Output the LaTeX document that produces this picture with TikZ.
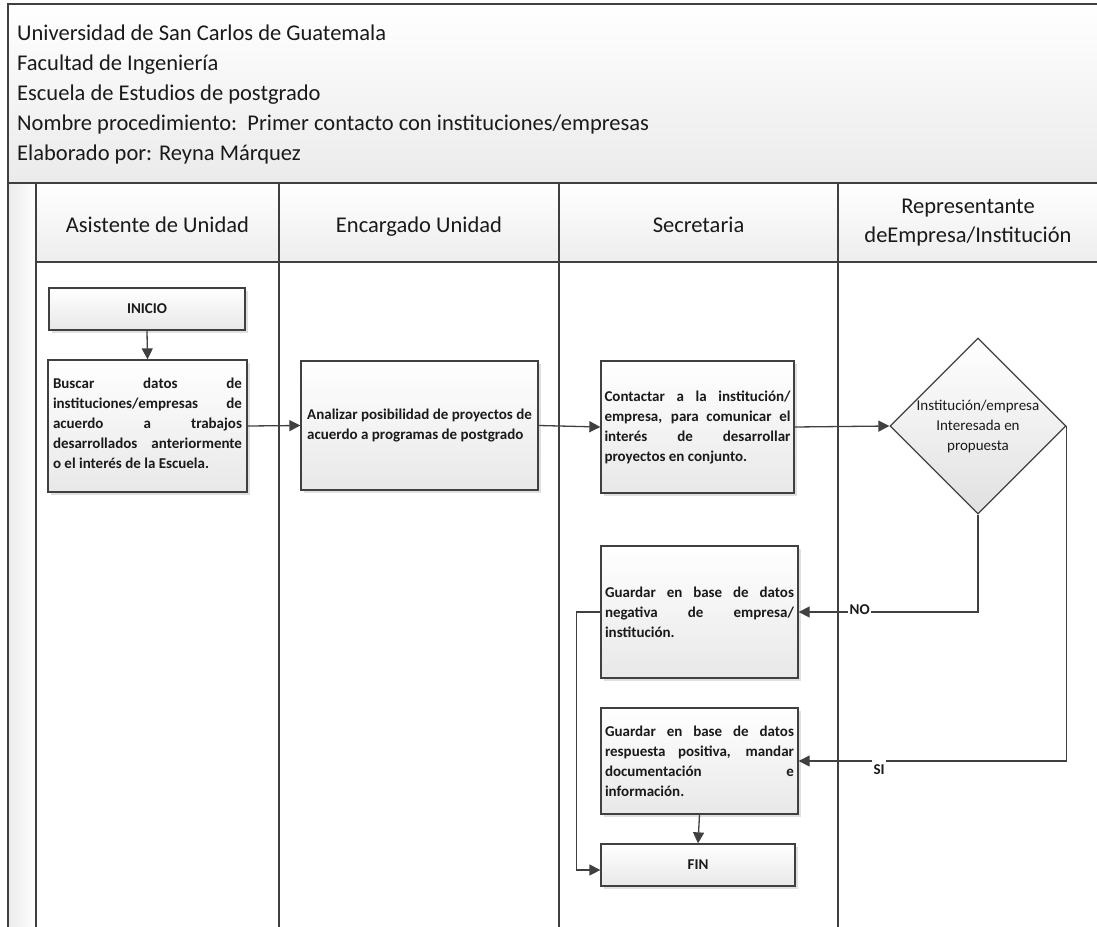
\documentclass[tikz,border=0pt]{standalone}
\usepackage{fontspec}
\setmainfont{Carlito}
\usetikzlibrary{arrows.meta,shadows,shapes.geometric}
\definecolor{ln}{HTML}{404040}
\definecolor{tx}{HTML}{1A1A1A}
\begin{document}
\begin{tikzpicture}[x=1pt,y=-1pt,
  frame/.style={draw=ln,line width=1.4pt},
  box/.style={draw=ln,line width=1.3pt,top color=white,bottom color=black!9,
    drop shadow={shadow xshift=2.5pt,shadow yshift=-2.5pt,fill=black,opacity=0.12},
    font=\bfseries\fontsize{15}{20}\selectfont,text=tx,align=justify,inner ysep=0pt},
  dia/.style={diamond,aspect=1,draw=ln,line width=1.3pt,top color=white,bottom color=black!12,
    minimum width=176pt,minimum height=176pt,inner sep=0pt},
  lbl/.style={font=\bfseries\fontsize{15}{18}\selectfont,text=tx,fill=white,inner xsep=1.5pt,inner ysep=1pt},
  arr/.style={draw=ln,line width=1.3pt,-{Triangle[length=11pt,width=11pt]}},
  lanehead/.style={font=\fontsize{22.5}{29}\selectfont,text=tx,align=center,inner sep=0pt},
  headtxt/.style={font=\fontsize{22.5}{30}\selectfont,text=tx,anchor=base west,inner sep=0pt}
]
\useasboundingbox (0,0) rectangle (1097,926);
\clip (0,0) rectangle (1097,926);

% header
\path[frame,top color=white,bottom color=black!8] (8,4) rectangle (1110,183);
\node[headtxt] (h1) at (17,40) {Universidad de San Carlos de Guatemala};
\node[headtxt] (h2) at (17,70) {Facultad de Ingeniería};
\node[headtxt] (h3) at (17,100) {Escuela de Estudios de postgrado};
\node[headtxt] (h4) at (17,130) {Nombre procedimiento:\ \ Primer contacto con instituciones/empresas};
\node[headtxt] (h5) at (17,160) {Elaborado por: Reyna Márquez};

% left strip
\path[frame,left color=black!8,right color=white] (8,183) rectangle (36,940);

% lane headers
\path[frame,top color=white,bottom color=black!7] (36,183) rectangle (1110,262);
\draw[frame] (279,183) -- (279,940);
\draw[frame] (559,183) -- (559,940);
\draw[frame] (838,183) -- (838,940);
\node[lanehead,anchor=base] (l1) at (157.5,232) {Asistente de Unidad};
\node[lanehead,anchor=base] (l2) at (419,232) {Encargado Unidad};
\node[lanehead,anchor=base] (l3) at (698.5,232) {Secretaria};
\node[lanehead] (l4) at (968,223) {Representante\\deEmpresa/Institución};

% boxes
\node[box,align=center,text width=184pt,inner xsep=6pt,minimum height=42pt] (inicio) at (147,309) {INICIO};
\node[box,text width=189pt,inner xsep=5pt,minimum height=132pt] (buscar) at (147.5,426)
  {Buscar datos de\linebreak instituciones/empresas de\linebreak acuerdo a trabajos\linebreak desarrollados anteriormente\linebreak o el interés de la Escuela.\par\vspace{6pt}};
\node[box,align=left,inner xsep=0pt,minimum width=237pt,minimum height=129pt] (analizar) at (419.5,425.5)
  {Analizar posibilidad de proyectos de\\acuerdo a programas de postgrado};
\node[box,text width=186pt,inner xsep=3.5pt,minimum height=132pt] (contactar) at (697.5,427)
  {Contactar a la institución/\linebreak empresa, para comunicar el\linebreak interés de desarrollar\linebreak proyectos en conjunto.};
\node[dia] (dec) at (978,426) {};
\node[font=\fontsize{15}{20}\selectfont,text=tx,align=center,inner sep=0pt] (dectext) at (dec.center)
  {Institución/empresa\\Interesada en\\propuesta};
\node[box,text width=189pt,inner xsep=4pt,minimum height=132pt] (guardar1) at (699.5,612)
  {Guardar en base de datos\linebreak negativa de empresa/\linebreak institución.};
\node[box,text width=189pt,inner xsep=4pt,minimum height=106pt] (guardar2) at (699.5,761)
  {Guardar en base de datos\linebreak respuesta positiva, mandar\linebreak documentación e\linebreak información.};
\node[box,align=center,text width=182pt,inner xsep=6pt,minimum height=42pt] (fin) at (698,865) {FIN};

% connectors
\draw[arr] (inicio.south) -- (buscar.north);
\draw[arr] (buscar.east) -- (analizar.west);
\draw[arr] (analizar.east) -- (contactar.west);
\draw[arr] (contactar.east) -- (dec.west);
\draw[arr] (dec.south) |- (guardar1.east) node[lbl,pos=0.83,yshift=2pt] {NO};
\draw[arr] (dec.east) |- (guardar2.east) node[lbl,pos=0.85,yshift=-9pt,minimum height=24pt] {SI};
\draw[arr] (guardar2.south) -- (fin.north);
\draw[arr] (guardar1.west) -- ++(-24,0) |- ([yshift=-5pt]fin.west);
\end{tikzpicture}
\end{document}
